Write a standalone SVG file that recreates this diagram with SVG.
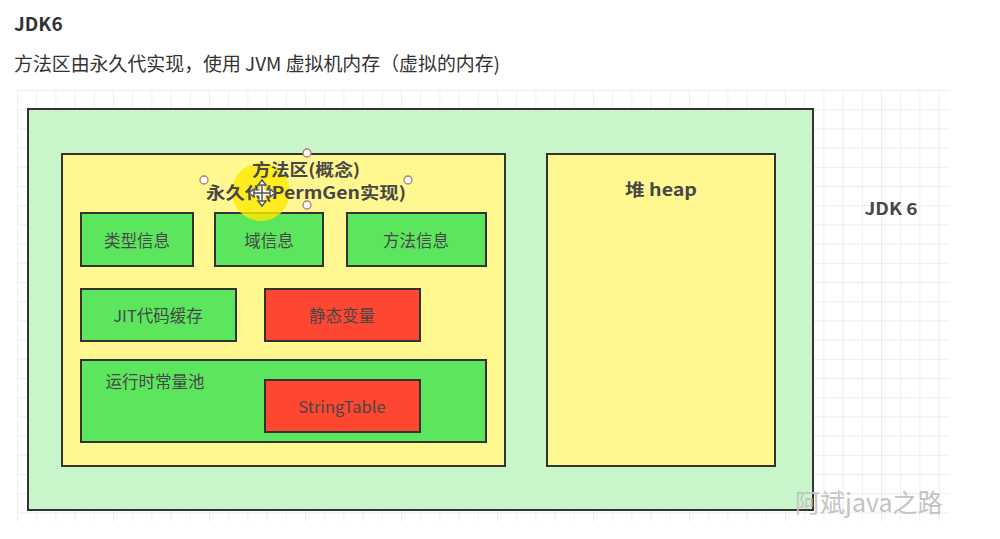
<svg xmlns="http://www.w3.org/2000/svg" width="1000" height="539" viewBox="0 0 1000 539">
<defs>
<pattern id="grid" x="17" y="90" width="19.2" height="19.2" patternUnits="userSpaceOnUse">
<rect width="19.2" height="19.2" fill="#ffffff"/>
<path d="M0 0H19.2M0 0V19.2" stroke="#e8e8e8" stroke-width="1.4" fill="none"/>
</pattern>
</defs>
<style>
.hd{font-family:"Noto Sans CJK SC","Noto Sans",sans-serif;fill:#333}
.box{stroke:#333;stroke-width:2}
.g{fill:#5ce65e}
.r{fill:#fe4630}
.lbl{font-family:"Noto Sans CJK SC","Noto Sans",sans-serif;font-size:16.5px;fill:#474747;text-anchor:middle}
.bold{font-weight:bold}
.h{fill:#fff;stroke:#b07c6c;stroke-width:1.3}
</style>
<rect width="1000" height="539" fill="#fff"/>
<text class="hd bold" x="14" y="31" font-size="19">JDK6</text>
<text class="hd" x="14" y="71" font-size="19" textLength="486" lengthAdjust="spacingAndGlyphs">方法区由永久代实现，使用 JVM 虚拟机内存（虚拟的内存)</text>
<rect x="17" y="90" width="933" height="432" fill="url(#grid)"/>
<g id="jdk6">
<rect class="box" x="28" y="109" width="785" height="401" fill="#c8f5ca"/>
</g>
<g id="method-area">
<rect class="box" x="62" y="154" width="443" height="312" fill="#fff78f"/>
</g>
<g id="type-info"><rect class="box g" x="81" y="213" width="112" height="53"/><text class="lbl" x="137" y="247">类型信息</text></g>
<g id="field-info"><rect class="box g" x="215" y="213" width="108" height="53"/><text class="lbl" x="269" y="247">域信息</text></g>
<g id="method-info"><rect class="box g" x="347" y="213" width="139" height="53"/><text class="lbl" x="416" y="247">方法信息</text></g>
<g id="jit"><rect class="box g" x="81" y="289" width="155" height="52"/><text class="lbl" x="158" y="322">JIT代码缓存</text></g>
<g id="static-vars"><rect class="box r" x="265" y="289" width="155" height="52"/><text class="lbl" x="342" y="322">静态变量</text></g>
<g id="runtime-pool"><rect class="box g" x="81" y="360" width="405" height="82"/><text class="lbl" x="155" y="388">运行时常量池</text></g>
<g id="stringtable"><rect class="box r" x="265" y="380" width="155" height="52"/><text class="lbl" x="342" y="413">StringTable</text></g>
<g id="heap"><rect class="box" x="547" y="154" width="228" height="312" fill="#fff78f"/><text class="lbl bold" x="661" y="196" font-size="20" textLength="72" lengthAdjust="spacingAndGlyphs">堆 heap</text></g>
<g id="label-jdk6"><text class="lbl bold" x="891" y="215" font-size="20" textLength="53" lengthAdjust="spacingAndGlyphs">JDK 6</text></g>
<circle cx="261" cy="192" r="29" fill="#ffe800" opacity="0.8"/>
<g id="title">
<text class="lbl bold" x="306" y="176" font-size="20" textLength="108" lengthAdjust="spacingAndGlyphs">方法区(概念)</text>
<text class="lbl bold" x="306" y="199" font-size="20" textLength="200" lengthAdjust="spacingAndGlyphs">永久代(PermGen实现)</text>
</g>
<g id="selection">
<circle class="h" cx="307" cy="153" r="4"/>
<circle class="h" cx="204" cy="180" r="4"/>
<circle class="h" cx="408" cy="180" r="4"/>
<circle class="h" cx="307" cy="205" r="4"/>
<g stroke="#555" stroke-width="1.5" fill="#fff">
<path d="M262 181V205M250 193H274" stroke="#fff" stroke-width="5"/>
<path d="M262 181V205M250 193H274"/>
<path d="M258 185L262 180L266 185ZM258 201L262 206L266 201ZM254 189L249 193L254 197ZM270 189L275 193L270 197Z" fill="#fff"/>
</g>
</g>
<text x="795" y="512" font-family="'Noto Sans CJK SC','Noto Sans',sans-serif" font-size="25" fill="#c4c4c4">阿斌java之路</text>
</svg>
